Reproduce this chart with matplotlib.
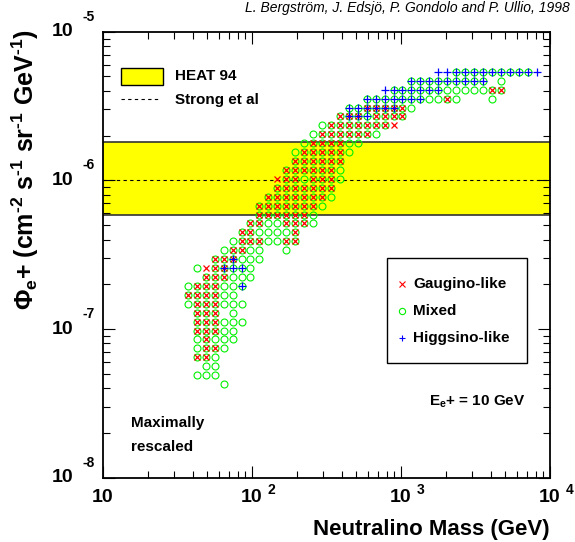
import matplotlib
matplotlib.use("Agg")
import matplotlib.pyplot as plt
from matplotlib.patches import Rectangle

plt.rcParams['font.family'] = ['Liberation Sans', 'DejaVu Sans']
plt.rcParams['font.weight'] = 'bold'
plt.rcParams['mathtext.fontset'] = 'custom'
plt.rcParams['mathtext.rm'] = 'Liberation Sans:bold'
plt.rcParams['mathtext.it'] = 'Liberation Sans:bold'
plt.rcParams['mathtext.bf'] = 'Liberation Sans:bold'

W, H = 575, 542

# grid of neutralino masses (GeV) and flux bins
mass_bins = [37.2, 42.7, 49.0, 56.2, 64.6, 74.1, 85.1, 97.7, 112, 129,
             148, 170, 195, 224, 257, 295, 339, 389, 447, 513,
             589, 676, 776, 891, 1023, 1175, 1349, 1549, 1778, 2042,
             2344, 2692, 3090, 3548, 4074, 4677, 5370, 6166, 7079, 8128]
flux_bins = [5.37e-6, 4.68e-6, 4.07e-6, 3.55e-6, 3.09e-6, 2.69e-6, 2.34e-6, 2.04e-6,
             1.78e-6, 1.55e-6, 1.35e-6, 1.17e-6, 1.02e-6, 8.91e-7, 7.76e-7, 6.76e-7,
             5.89e-7, 5.13e-7, 4.47e-7, 3.89e-7, 3.39e-7, 2.95e-7, 2.57e-7, 2.24e-7,
             1.95e-7, 1.70e-7, 1.48e-7, 1.29e-7, 1.12e-7, 9.77e-8, 8.51e-8, 7.41e-8,
             6.46e-8, 5.62e-8, 4.90e-8, 4.27e-8]
# one entry per flux bin: (first mass bin, codes)
# g = gaugino-like, m = mixed, h = higgsino-like, G = g+m, H = h+m, A = g+h+m
row_start = [28, 25, 22, 20, 18, 17, 15, 14, 13, 12, 12, 11, 10, 10, 9, 8, 8, 7,
             6, 5, 4, 3, 1, 2, 0, 0, 0, 1, 1, 1, 1, 1, 1, 2, 1, 4]
row_codes = ["hhHHHHHHHHHh", "HHHHHHHHH.m", "hHHHHHHmmmmmGG", "HHHHHHHmmGm...m",
             "HHAAAAGm", "GAAHGGGG", "mGGGGGGGg", "mGGGGGGm", "mGGGGmm", "mGGGGGm",
             "GGGGGG", "GGGGGGm", "gGGmGGGm", "GGGGGGG", "GGGGGGGm", "GGGGGGGm",
             "GGGGGGm", "GGmmGGGm", "GGmmmmG", "mGGGmmGG", "mGGmm..m", "GGAmmm",
             "mgGAHHm", "GGGmmm", "mGGGmmH", "GGGGmm", "mGGGmmm", "GGG.m",
             "GGGmmm", "GGGmm", "mGmmm", "mGGm", "GGm", "mm", "mmm", "m"]

heat94_low, heat94_high = 5.85e-7, 1.82e-6
strong_flux = 1.0e-6

gau_x, gau_y, mix_x, mix_y, hig_x, hig_y = [], [], [], [], [], []
for flux, start, codes in zip(flux_bins, row_start, row_codes):
    for j, c in enumerate(codes):
        m = mass_bins[start + j]
        if c in 'gGA':
            gau_x.append(m); gau_y.append(flux)
        if c in 'mGHA':
            mix_x.append(m); mix_y.append(flux)
        if c in 'hHA':
            hig_x.append(m); hig_y.append(flux)

fig = plt.figure(figsize=(W / 100, H / 100), dpi=100)
ax = fig.add_axes([103 / W, 1 - 477.7 / H, 447 / W, 446 / H])
ax.set_xscale('log')
ax.set_yscale('log')
ax.set_xlim(10, 1e4)
ax.set_ylim(1e-8, 1e-5)

ax.axhspan(heat94_low, heat94_high, facecolor='#ffff00', edgecolor='none', zorder=1)
ax.axhline(heat94_low, color='#333333', lw=1.2, zorder=1.5)
ax.axhline(heat94_high, color='#333333', lw=1.2, zorder=1.5)
ax.axhline(strong_flux, color='black', lw=0.8, ls=(0, (3, 3)), zorder=2)

ax.plot(mix_x, mix_y, 'o', ms=5, mfc='none', mec='#00f000', mew=0.8, zorder=3)
ax.plot(gau_x, gau_y, 'x', ms=4.5, color='#ff0000', mew=0.9, zorder=4)
ax.plot(hig_x, hig_y, '+', ms=5.5, color='#0000ff', mew=0.9, zorder=5)

for s in ax.spines.values():
    s.set_linewidth(1.3)
ax.tick_params(which='both', direction='in', top=True, right=True,
               labelbottom=False, labelleft=False, width=0.8)
ax.tick_params(which='major', length=8.6)
ax.tick_params(which='minor', length=4.7)

# ROOT style tick labels
for v, e in zip([10, 100, 1000, 10000], ['', '2', '3', '4']):
    ax.annotate('10', (v, 0), xycoords=('data', 'axes fraction'), xytext=(0, -14),
                textcoords='offset points', ha='center', va='center', fontsize=14)
    if e:
        ax.annotate(e, (v, 0), xycoords=('data', 'axes fraction'), xytext=(11, -9),
                    textcoords='offset points', ha='left', va='center', fontsize=10)
for v, e in zip([1e-8, 1e-7, 1e-6, 1e-5], ['-8', '-7', '-6', '-5']):
    ax.annotate('10', (0, v), xycoords=('axes fraction', 'data'), xytext=(-21.6, 0),
                textcoords='offset points', ha='right', va='center', fontsize=14)
    ax.annotate(e, (0, v), xycoords=('axes fraction', 'data'), xytext=(-15.1, 10.8),
                textcoords='offset points', ha='left', va='center', fontsize=10)


def fx(x):
    return x / W


def fy(y):
    return 1 - y / H


fig.text(fx(550), fy(535), 'Neutralino Mass (GeV)', ha='right', va='baseline', fontsize=16)
fig.text(fx(34), fy(29),
         r'$\Phi_{e}$+ (cm$^{\text{-2}}$ s$^{\text{-1}}$ sr$^{\text{-1}}$ GeV$^{\text{-1}}$)',
         rotation=90, rotation_mode='anchor', ha='right', va='baseline', fontsize=18)
fig.text(fx(570), fy(8), 'L. Bergström, J. Edsjö, P. Gondolo and P. Ullio, 1998',
         ha='right', va='center', fontsize=10, style='italic', weight='normal')

# HEAT / Strong legend
fig.add_artist(Rectangle((fx(120.7), fy(85)), (162.7 - 120.7) / W, 17.3 / H,
                         facecolor='#ffff00', edgecolor='black', lw=1,
                         transform=fig.transFigure))
fig.text(fx(175), fy(76), 'HEAT 94', ha='left', va='center', fontsize=11)
ax.plot([fx(120.7), fx(160)], [fy(99), fy(99)], color='black', lw=0.8, ls=(0, (3, 3)),
        transform=fig.transFigure, clip_on=False)
fig.text(fx(175), fy(100), 'Strong et al', ha='left', va='center', fontsize=11)

# marker legend
ax.add_patch(Rectangle((fx(386.7), fy(362.7)), (527.3 - 386.7) / W, (362.7 - 258.3) / H,
                       facecolor='white', edgecolor='black', lw=1,
                       transform=fig.transFigure, clip_on=False, zorder=6))
legend_items = [('x', '#ff0000', 'Gaugino-like', 284.3),
                ('o', '#00f000', 'Mixed', 311),
                ('+', '#0000ff', 'Higgsino-like', 337.7)]
for mk, col, lab, y in legend_items:
    if mk == 'o':
        ax.plot([fx(401.7)], [fy(y)], mk, ms=4.5, mfc='none', mec=col, mew=0.8,
                transform=fig.transFigure, clip_on=False, zorder=7)
    else:
        ax.plot([fx(401.7)], [fy(y)], mk, ms=4.5, color=col, mew=0.8,
                transform=fig.transFigure, clip_on=False, zorder=7)
    fig.text(fx(413.3), fy(y), lab, ha='left', va='center', fontsize=11, zorder=7)

fig.text(fx(526), fy(402), r'E$_{e}$+ = 10 GeV', ha='right', va='center', fontsize=11)
fig.text(fx(130.7), fy(422.7), 'Maximally', ha='left', va='center', fontsize=11)
fig.text(fx(130.7), fy(446.7), 'rescaled', ha='left', va='center', fontsize=11)

fig.savefig('out.png', dpi=100)
